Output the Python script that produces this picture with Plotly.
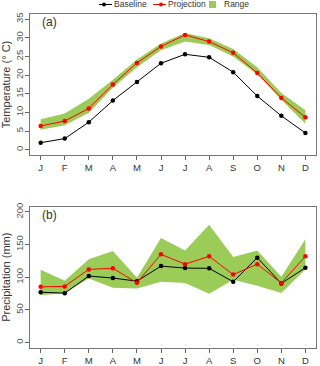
import plotly.graph_objects as go

months = ["J", "F", "M", "A", "M", "J", "J", "A", "S", "O", "N", "D"]
month_num = list(range(1, 13))

temp_baseline = [1.9, 3.0, 7.4, 13.2, 18.2, 23.2, 25.6, 24.8, 20.8, 14.4, 9.1, 4.5]
temp_projection = [6.4, 7.7, 11.1, 17.5, 23.3, 27.7, 30.8, 29.0, 26.0, 20.6, 13.9, 8.7]
temp_upper = [8.2, 9.7, 13.7, 18.8, 24.2, 28.5, 31.3, 29.9, 27.0, 22.1, 15.2, 10.6]
temp_lower = [5.4, 6.6, 9.9, 16.6, 22.1, 26.7, 29.0, 28.1, 25.0, 20.2, 13.4, 7.0]

prec_baseline = [77, 75.6, 101.8, 98.7, 94, 117, 114, 113.6, 93, 130, 90.5, 114.6]
prec_projection = [85.3, 85.9, 112, 113.6, 91.5, 135, 120, 132, 104, 120, 91, 132]
prec_upper = [111.6, 94.6, 127.5, 140, 99, 160, 141, 180.5, 131, 141, 100.8, 158]
prec_lower = [72.5, 75.6, 98, 83.8, 82.8, 93, 91, 74.5, 96, 87, 76, 112]

GREEN = "#9ccc58"
FONT = "Liberation Sans"
W, H = 320, 366

fig = go.Figure()


def add_panel(fig, xa, ya, base, proj, upper, lower):
    fig.add_trace(
        go.Scatter(
            x=month_num + month_num[::-1],
            y=upper + lower[::-1],
            fill="toself",
            fillcolor=GREEN,
            line=dict(width=0, color=GREEN),
            mode="lines",
            name="Range",
            xaxis=xa,
            yaxis=ya,
            showlegend=False,
            hoverinfo="skip",
        )
    )
    fig.add_trace(
        go.Scatter(
            x=month_num,
            y=base,
            mode="lines+markers",
            line=dict(color="black", width=1),
            marker=dict(color="black", size=4.5),
            name="Baseline",
            xaxis=xa,
            yaxis=ya,
            showlegend=False,
        )
    )
    fig.add_trace(
        go.Scatter(
            x=month_num,
            y=proj,
            mode="lines+markers",
            line=dict(color="red", width=1),
            marker=dict(color="red", size=4.5),
            name="Projection",
            xaxis=xa,
            yaxis=ya,
            showlegend=False,
        )
    )


add_panel(fig, "x", "y", temp_baseline, temp_projection, temp_upper, temp_lower)
add_panel(fig, "x2", "y2", prec_baseline, prec_projection, prec_upper, prec_lower)

xaxis_common = dict(
    range=[0.56, 12.44],
    tickvals=month_num,
    ticktext=months,
    ticks="outside",
    ticklen=4,
    tickcolor="#666",
    showgrid=False,
    zeroline=False,
    showline=True,
    linecolor="#777",
    mirror=True,
    automargin=False,
    tickfont=dict(size=9.5, color="#333"),
)
yaxis_common = dict(
    ticks="outside",
    ticklen=4,
    tickcolor="#666",
    tickangle=-90,
    ticklabelstandoff=-2,
    showgrid=False,
    zeroline=False,
    showline=True,
    linecolor="#777",
    mirror=True,
    automargin=False,
    tickfont=dict(size=9.5, color="#555"),
)

fig.update_layout(
    width=W,
    height=H,
    margin=dict(l=0, r=0, t=0, b=0),
    paper_bgcolor="white",
    plot_bgcolor="white",
    font=dict(family=FONT, size=10, color="#333"),
    showlegend=False,
    xaxis=dict(xaxis_common, domain=[0.094, 0.9875], anchor="y"),
    yaxis=dict(
        yaxis_common,
        domain=[0.5765, 0.9617],
        anchor="x",
        range=[-1.4, 36.4],
        dtick=5,
        title=dict(text="Temperature (° C)", font=dict(size=11, color="#333"), standoff=3),
    ),
    xaxis2=dict(xaxis_common, domain=[0.094, 0.9875], anchor="y2"),
    yaxis2=dict(
        yaxis_common,
        domain=[0.05, 0.4352],
        anchor="x2",
        range=[-8, 208],
        dtick=50,
        title=dict(text="Precipitation (mm)", font=dict(size=11, color="#333"), standoff=3),
    ),
)

fig.add_annotation(
    text="(a)", xref="x domain", yref="y domain", x=0.035, y=0.94,
    xanchor="left", yanchor="middle", showarrow=False, font=dict(size=12, color="#333"),
)
fig.add_annotation(
    text="(b)", xref="x2 domain", yref="y2 domain", x=0.035, y=0.94,
    xanchor="left", yanchor="middle", showarrow=False, font=dict(size=12, color="#333"),
)


# compact legend across the top, positioned in pixels
def px(x):
    return x / W


def py(y):
    return 1 - y / H


LEG_Y = 4.5
LEG_FONT = dict(size=8.5, color="#333")
for x0, x1, dot_x, color, label in [
    (99, 112, 104, "black", "Baseline"),
    (153, 166, 161, "red", "Projection"),
]:
    fig.add_shape(type="line", xref="paper", yref="paper",
                  x0=px(x0), x1=px(x1), y0=py(LEG_Y), y1=py(LEG_Y),
                  line=dict(color=color, width=1))
    fig.add_shape(type="circle", xref="paper", yref="paper",
                  x0=px(dot_x - 2), x1=px(dot_x + 2), y0=py(LEG_Y - 2), y1=py(LEG_Y + 2),
                  fillcolor=color, line=dict(width=0))
    fig.add_annotation(text=label, xref="paper", yref="paper", x=px(x1), y=py(LEG_Y),
                       xanchor="left", yanchor="middle", showarrow=False, font=LEG_FONT)

fig.add_shape(type="rect", xref="paper", yref="paper",
              x0=px(209), x1=px(216), y0=py(LEG_Y - 3.5), y1=py(LEG_Y + 3.5),
              fillcolor=GREEN, line=dict(width=0))
fig.add_annotation(text="Range", xref="paper", yref="paper", x=px(222), y=py(LEG_Y),
                   xanchor="left", yanchor="middle", showarrow=False, font=LEG_FONT)

# the page body has a default 8px margin; drop it so the figure fills the window
fig.write_html(
    "out.html",
    config={"displayModeBar": False},
    post_script="document.body.style.margin='0';",
)
